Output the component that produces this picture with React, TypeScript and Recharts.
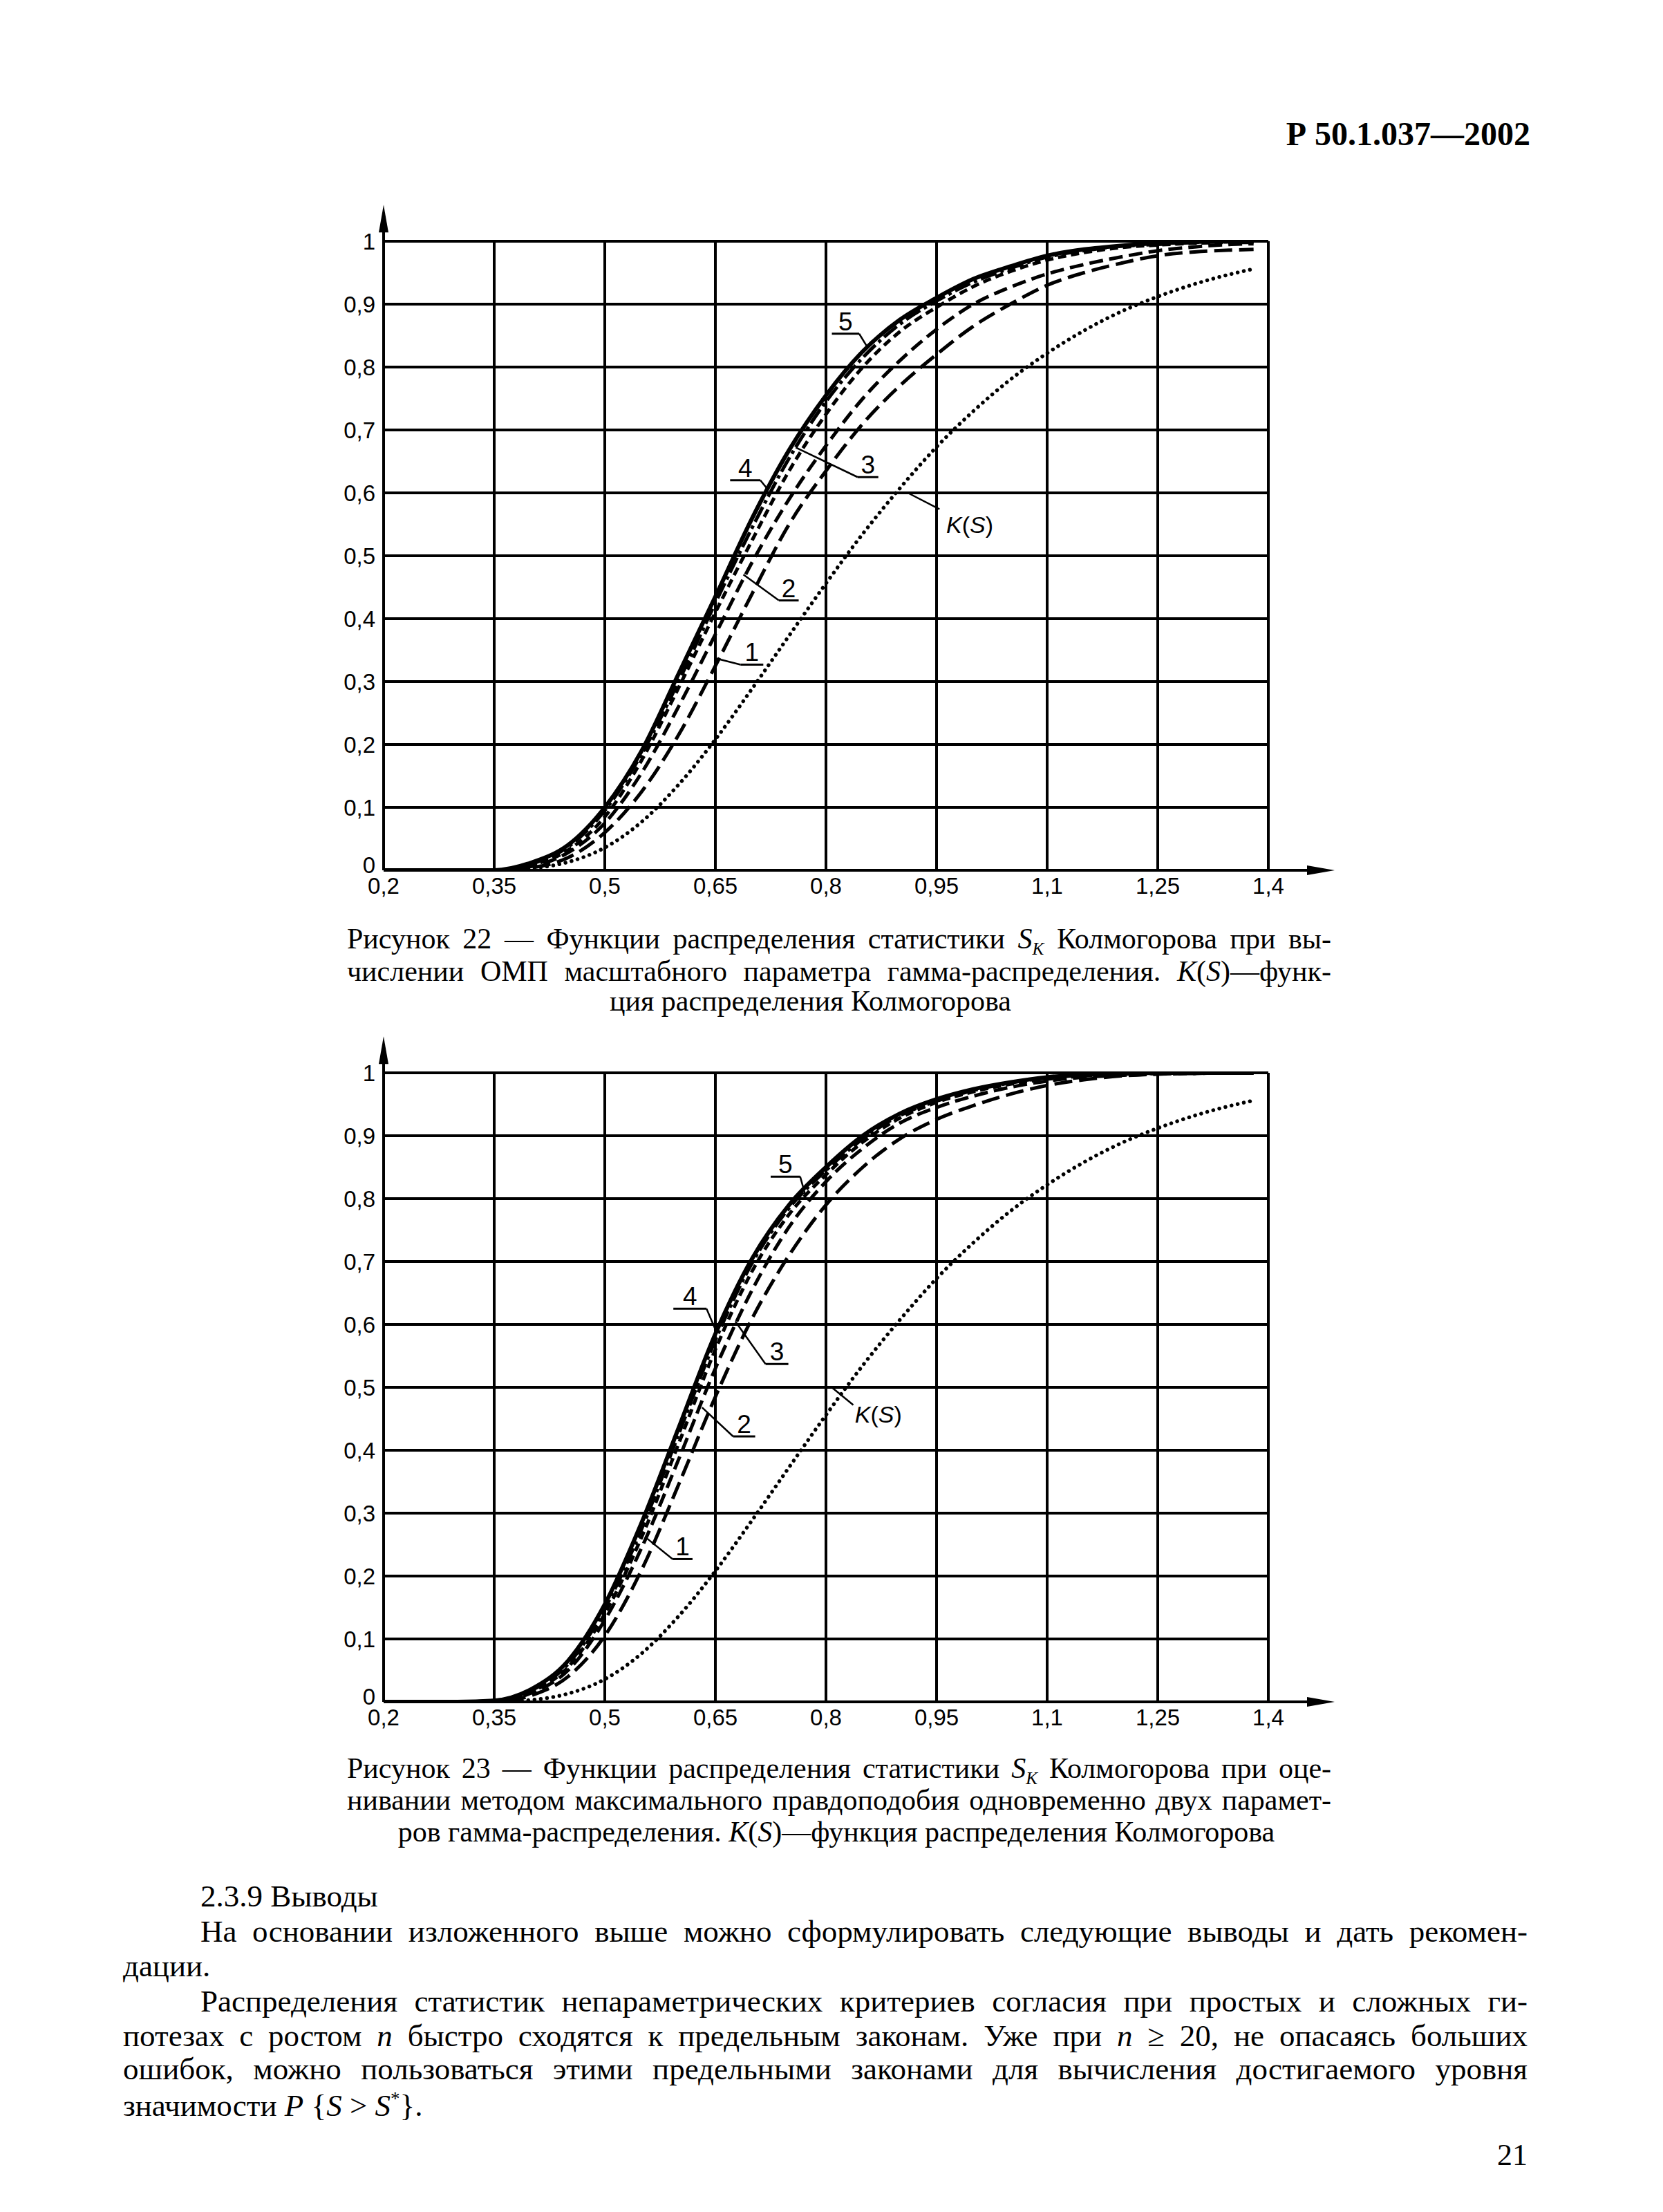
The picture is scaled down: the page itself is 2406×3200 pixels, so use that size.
import React from 'react';
import { LineChart, Line, XAxis, YAxis, CartesianGrid, ReferenceLine, ReferenceDot } from 'recharts';

// S values (x axis), shared by both figures
const sValues = [0.2, 0.25, 0.3, 0.35, 0.4, 0.45, 0.5, 0.55, 0.6, 0.65, 0.7, 0.75, 0.8, 0.85, 0.9, 0.95, 1.0, 1.05, 1.1, 1.15, 1.2, 1.25, 1.3, 1.35, 1.38];

// K(S) - Kolmogorov distribution (dotted)
const kolmogorov = [0, 0, 0, 0.0003, 0.003, 0.013, 0.036, 0.077, 0.136, 0.208, 0.289, 0.373, 0.456, 0.535, 0.607, 0.673, 0.73, 0.78, 0.822, 0.858, 0.888, 0.912, 0.932, 0.948, 0.956];

// Figure 22
const fig22Curve1 = [0, 0, 0, 0, 0.004, 0.02, 0.06, 0.125, 0.215, 0.325, 0.44, 0.55, 0.635, 0.71, 0.77, 0.82, 0.865, 0.9, 0.93, 0.95, 0.965, 0.977, 0.983, 0.986, 0.987];
const fig22Curve2 = [0, 0, 0, 0, 0.006, 0.028, 0.075, 0.155, 0.26, 0.375, 0.49, 0.59, 0.675, 0.75, 0.81, 0.86, 0.9, 0.927, 0.948, 0.963, 0.975, 0.985, 0.991, 0.995, 0.996];
const fig22Curve3 = [0, 0, 0, 0, 0.008, 0.032, 0.085, 0.175, 0.29, 0.41, 0.525, 0.635, 0.725, 0.8, 0.856, 0.895, 0.928, 0.952, 0.97, 0.982, 0.99, 0.994, 0.997, 0.998, 0.998];
const fig22Curve4 = [0, 0, 0, 0, 0.01, 0.037, 0.095, 0.185, 0.3, 0.425, 0.545, 0.655, 0.745, 0.815, 0.868, 0.905, 0.935, 0.957, 0.975, 0.985, 0.992, 0.995, 0.998, 0.999, 0.999];
const fig22Curve5 = [0, 0, 0, 0, 0.012, 0.04, 0.1, 0.19, 0.312, 0.435, 0.56, 0.668, 0.755, 0.825, 0.875, 0.91, 0.94, 0.96, 0.977, 0.987, 0.993, 0.997, 0.999, 1.0, 1.0];

// Figure 23
const fig23Curve1 = [0, 0, 0, 0, 0.01, 0.04, 0.105, 0.21, 0.345, 0.485, 0.61, 0.71, 0.79, 0.85, 0.895, 0.926, 0.948, 0.966, 0.98, 0.989, 0.995, 0.998, 0.999, 1.0, 1.0];
const fig23Curve2 = [0, 0, 0, 0.001, 0.014, 0.05, 0.13, 0.245, 0.385, 0.53, 0.655, 0.755, 0.827, 0.88, 0.92, 0.945, 0.963, 0.977, 0.987, 0.993, 0.996, 0.998, 0.999, 1.0, 1.0];
const fig23Curve3 = [0, 0, 0, 0.001, 0.016, 0.055, 0.14, 0.262, 0.41, 0.56, 0.685, 0.775, 0.838, 0.89, 0.928, 0.953, 0.97, 0.982, 0.99, 0.995, 0.998, 0.999, 1.0, 1.0, 1.0];
const fig23Curve4 = [0, 0, 0, 0.002, 0.018, 0.06, 0.148, 0.275, 0.425, 0.575, 0.698, 0.785, 0.845, 0.895, 0.932, 0.955, 0.972, 0.984, 0.992, 0.996, 0.998, 0.999, 1.0, 1.0, 1.0];
const fig23Curve5 = [0, 0, 0, 0.002, 0.02, 0.065, 0.155, 0.285, 0.435, 0.585, 0.705, 0.79, 0.85, 0.9, 0.935, 0.958, 0.974, 0.985, 0.993, 0.997, 0.999, 1.0, 1.0, 1.0, 1.0];

const xTicks = [0.2, 0.35, 0.5, 0.65, 0.8, 0.95, 1.1, 1.25, 1.4];
const yTicks = [0, 0.1, 0.2, 0.3, 0.4, 0.5, 0.6, 0.7, 0.8, 0.9, 1];

// curve number labels: text, underline [x1, x2, y], leader end on the curve [x, y]
const fig22Notes = [
    { text: '5', under: [0.808, 0.845, 0.853], to: [0.857, 0.83], fromLeft: false },
    { text: '4', under: [0.670, 0.711, 0.620], to: [0.720, 0.607], fromLeft: false },
    { text: '3', under: [0.843, 0.871, 0.625], to: [0.759, 0.672], fromLeft: true },
    { text: '2', under: [0.736, 0.763, 0.429], to: [0.688, 0.470], fromLeft: true },
    { text: '1', under: [0.684, 0.715, 0.327], to: [0.650, 0.337], fromLeft: true },
];
const fig22K = { at: [0.995, 0.55], from: [0.954, 0.574], to: [0.911, 0.6] };

const fig23Notes = [
    { text: '5', under: [0.725, 0.765, 0.835], to: [0.772, 0.806], fromLeft: false },
    { text: '4', under: [0.593, 0.638, 0.625], to: [0.650, 0.592], fromLeft: false },
    { text: '3', under: [0.718, 0.749, 0.537], to: [0.677, 0.605], fromLeft: true },
    { text: '2', under: [0.674, 0.704, 0.422], to: [0.632, 0.468], fromLeft: true },
    { text: '1', under: [0.592, 0.619, 0.227], to: [0.557, 0.26], fromLeft: true },
];
const fig23K = { at: [0.871, 0.457], from: [0.837, 0.472], to: [0.809, 0.499] };

const SERIF = '"Liberation Serif", "Times New Roman", serif';
const SANS = '"Liberation Sans", Arial, sans-serif';

const fmt = (v: number) => String(v).replace('.', ',');

const buildRows = (c1: number[], c2: number[], c3: number[], c4: number[], c5: number[]) =>
    sValues.map((s, i) => ({ s, k: kolmogorov[i], c1: c1[i], c2: c2[i], c3: c3[i], c4: c4[i], c5: c5[i] }));

const curveStyles = [
    { key: 'k', width: 5.5, dash: '0.1 9', cap: 'round' },
    { key: 'c1', width: 5, dash: '26 10', cap: 'butt' },
    { key: 'c2', width: 5, dash: '20 9', cap: 'butt' },
    { key: 'c3', width: 5, dash: '12 7', cap: 'butt' },
    { key: 'c4', width: 5, dash: '24 6 5 6', cap: 'butt' },
    { key: 'c5', width: 6, dash: undefined, cap: 'butt' },
];

const arrowRight = (p: any) => (
    <polygon points={`${p.cx},${p.cy} ${p.cx - 40},${p.cy - 7} ${p.cx - 40},${p.cy + 7}`} fill="#000" />
);
const arrowUp = (p: any) => (
    <polygon points={`${p.cx},${p.cy} ${p.cx - 7},${p.cy + 40} ${p.cx + 7},${p.cy + 40}`} fill="#000" />
);

// y tick: the "0" sits a little above the x axis so it clears the "0,2"
const YTick = (p: any) => (
    <text x={p.x} y={p.y} dy={p.payload.value === 0 ? -8 : 0} textAnchor="end" dominantBaseline="central"
        fontSize={33} fontFamily={SANS} fill="#000">
        {fmt(p.payload.value)}
    </text>
);

const renderNotes = (notes: typeof fig22Notes, kNote: typeof fig22K) => {
    const out: React.ReactNode[] = [];
    notes.forEach((n, i) => {
        const [x1, x2, y] = n.under;
        const sx = n.fromLeft ? x1 : x2;
        out.push(
            <ReferenceLine key={`u${i}`} ifOverflow="visible" stroke="#000" strokeWidth={3}
                segment={[{ x: x1, y }, { x: x2, y }]} />
        );
        out.push(
            <ReferenceLine key={`l${i}`} ifOverflow="visible" stroke="#000" strokeWidth={2.5}
                segment={[{ x: sx, y }, { x: n.to[0], y: n.to[1] }]} />
        );
        out.push(
            <ReferenceDot key={`t${i}`} x={(x1 + x2) / 2} y={y} r={0} ifOverflow="visible"
                shape={(p: any) => (
                    <text x={p.cx} y={p.cy - 5} textAnchor="middle" fontSize={37} fontFamily={SANS} fill="#000">
                        {n.text}
                    </text>
                )} />
        );
    });
    out.push(
        <ReferenceLine key="kl" ifOverflow="visible" stroke="#000" strokeWidth={2.5}
            segment={[{ x: kNote.from[0], y: kNote.from[1] }, { x: kNote.to[0], y: kNote.to[1] }]} />
    );
    out.push(
        <ReferenceDot key="kt" x={kNote.at[0]} y={kNote.at[1]} r={0} ifOverflow="visible"
            shape={(p: any) => (
                <text x={p.cx} y={p.cy} textAnchor="middle" dominantBaseline="central" fontSize={34} fontFamily={SANS} fill="#000">
                    <tspan fontStyle="italic">K</tspan>(<tspan fontStyle="italic">S</tspan>)
                </text>
            )} />
    );
    return out;
};

const KolmogorovChart = ({ rows, notes, kNote, top }: any) => (
    <div style={{ position: 'absolute', left: 440, top, width: 1505, height: 1049 }}>
        <LineChart width={1505} height={1049} data={rows} margin={{ top: 69, right: 110, bottom: 10, left: 10 }}>
            <CartesianGrid stroke="#000" strokeWidth={4} />
            <XAxis dataKey="s" type="number" domain={[0.2, 1.4]} ticks={xTicks} interval={0} allowDataOverflow
                tickFormatter={fmt} axisLine={{ stroke: '#000', strokeWidth: 4 }} tickLine={false} tickSize={0}
                tickMargin={11} height={60} tick={{ fill: '#000', fontSize: 33, fontFamily: SANS }} />
            <YAxis type="number" domain={[0, 1]} ticks={yTicks} interval={0} allowDataOverflow
                axisLine={{ stroke: '#000', strokeWidth: 4 }} tickLine={false} tickSize={0}
                tickMargin={12} width={105} tick={YTick} />
            <ReferenceLine ifOverflow="visible" stroke="#000" strokeWidth={4}
                segment={[{ x: 1.4, y: 0 }, { x: 1.46, y: 0 }]} />
            <ReferenceLine ifOverflow="visible" stroke="#000" strokeWidth={4}
                segment={[{ x: 0.2, y: 1 }, { x: 0.2, y: 1.03 }]} />
            <ReferenceDot x={1.49} y={0} r={0} ifOverflow="visible" shape={arrowRight} />
            <ReferenceDot x={0.2} y={1.058} r={0} ifOverflow="visible" shape={arrowUp} />
            {curveStyles.map((c) => (
                <Line key={c.key} type="monotone" dataKey={c.key} stroke="#000" strokeWidth={c.width}
                    strokeDasharray={c.dash} strokeLinecap={c.cap as any} dot={false} activeDot={false}
                    isAnimationActive={false} />
            ))}
            {renderNotes(notes, kNote)}
        </LineChart>
    </div>
);

const TextLine = ({ top, left, width, size = 45, center, bold, children }: any) => (
    <div style={{
        position: 'absolute', top: top - size * 0.6, left, width,
        fontFamily: SERIF, fontSize: size, lineHeight: 1.2, fontWeight: bold ? 700 : 400,
        textAlign: center ? 'center' : 'justify', textAlignLast: center ? 'center' : 'justify',
        color: '#000',
    }}>
        {children}
    </div>
);

const Plain = ({ children, align = 'left' }: any) => (
    <span style={{ display: 'block', textAlign: align, textAlignLast: align }}>{children}</span>
);

const Sk = () => (<><i>S</i><sub style={{ fontSize: '0.6em', fontStyle: 'italic' }}>K</sub></>);
const KS = () => (<><i>K</i>(<i>S</i>)</>);

export default function App() {
    const rows22 = buildRows(fig22Curve1, fig22Curve2, fig22Curve3, fig22Curve4, fig22Curve5);
    const rows23 = buildRows(fig23Curve1, fig23Curve2, fig23Curve3, fig23Curve4, fig23Curve5);
    return (
        <div style={{ position: 'absolute', left: 0, top: 0, width: 2406, height: 3200, background: '#fff', overflow: 'hidden' }}>
            <TextLine top={194} left={1700} width={514} size={48} bold><Plain align="right">Р 50.1.037—2002</Plain></TextLine>

            <KolmogorovChart rows={rows22} notes={fig22Notes} kNote={fig22K} top={280} />
            <TextLine top={1358} left={502} width={1424} size={42}>Рисунок 22 — Функции распределения статистики <Sk /> Колмогорова при вы-</TextLine>
            <TextLine top={1405} left={502} width={1424} size={42}>числении ОМП масштабного параметра гамма-распределения. <KS />—функ-</TextLine>
            <TextLine top={1448} left={853} width={639} size={42} center>ция распределения Колмогорова</TextLine>

            <KolmogorovChart rows={rows23} notes={fig23Notes} kNote={fig23K} top={1483} />
            <TextLine top={2558} left={502} width={1424} size={42}>Рисунок 23 — Функции распределения статистики <Sk /> Колмогорова при оце-</TextLine>
            <TextLine top={2604} left={502} width={1424} size={42}>нивании методом максимального правдоподобия одновременно двух парамет-</TextLine>
            <TextLine top={2650} left={560} width={1300} size={42} center>ров гамма-распределения. <KS />—функция распределения Колмогорова</TextLine>

            <TextLine top={2743} left={290} width={800}><Plain>2.3.9 Выводы</Plain></TextLine>
            <TextLine top={2794} left={290} width={1920}>На основании изложенного выше можно сформулировать следующие выводы и дать рекомен-</TextLine>
            <TextLine top={2844} left={178} width={800}><Plain>дации.</Plain></TextLine>
            <TextLine top={2895} left={290} width={1920}>Распределения статистик непараметрических критериев согласия при простых и сложных ги-</TextLine>
            <TextLine top={2945} left={178} width={2032}>потезах с ростом <i>n</i> быстро сходятся к предельным законам. Уже при <i>n</i> ≥ 20, не опасаясь больших</TextLine>
            <TextLine top={2993} left={178} width={2032}>ошибок, можно пользоваться этими предельными законами для вычисления достигаемого уровня</TextLine>
            <TextLine top={3046} left={178} width={800}><Plain>значимости <i>P</i> {'{'}<i>S</i> &gt; <i>S</i><sup style={{ fontSize: '0.6em' }}>*</sup>{'}'}.</Plain></TextLine>

            <TextLine top={3118} left={2090} width={120} size={44}><Plain align="right">21</Plain></TextLine>
        </div>
    );
}
